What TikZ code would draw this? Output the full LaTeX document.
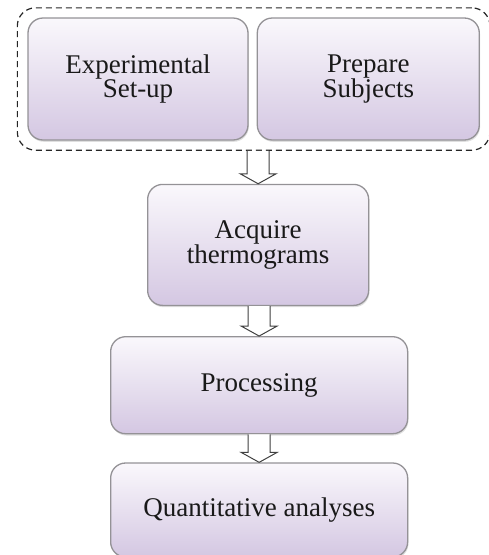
\documentclass[tikz,border=0pt]{standalone}
\usepackage{fontspec}
\setmainfont{Liberation Serif}
\usepackage{tikz}
\usetikzlibrary{positioning,fit,calc,shadows}
\definecolor{boxtop}{HTML}{FAF8FC}
\definecolor{boxbottom}{HTML}{D4C7E2}
\definecolor{boxline}{HTML}{949296}
\tikzset{
     stepbox/.style={draw=boxline, line width=1.3pt, rounded corners=15pt,
       top color=boxtop, bottom color=boxbottom, align=center,
       text=black!90, inner sep=0pt,
       font=\fontsize{27}{22}\selectfont,
       drop shadow={opacity=0.25, shadow xshift=0.8pt, shadow yshift=-1.8pt}},
     groupbox/.style={draw=black!85, line width=1.2pt, dashed, dash pattern=on 6pt off 4pt,
       rounded corners=18pt, inner xsep=10pt, inner ysep=9.5pt},
     hollow/.style={draw=black!75, line width=1pt, fill=white, line join=miter}
     }
% open block arrow from the bottom of #1 down to the top of #2
\newcommand{\hollowarrow}[2]{%
  \draw[hollow] ($(#2.north |- #1.south)+(-11pt,0)$) -- ($(#2.north)+(-11pt,10pt)$)
     -- ($(#2.north)+(-18pt,10pt)$) -- (#2.north) -- ($(#2.north)+(18pt,10pt)$)
     -- ($(#2.north)+(11pt,10pt)$) -- ($(#2.north |- #1.south)+(11pt,0)$);}

\begin{document}
\begin{tikzpicture}
                    \useasboundingbox (0,0) rectangle (488pt,-555pt);
                    % Place nodes
                    \node [stepbox, minimum width=220pt, minimum height=122pt] (setup) at (138pt,-79pt) {Experimental\\Set-up};
                    \node [stepbox, minimum width=222pt, minimum height=122pt, right=8pt of setup] (subjects) {Prepare\\Subjects};
                    \node [groupbox, fit=(setup)(subjects)] (prep) {};
                    \node [stepbox, minimum width=221pt, minimum height=121pt, below=33pt of prep, xshift=4.5pt] (acquire) {Acquire\\thermograms};
                    \node [stepbox, minimum width=297pt, minimum height=97pt, below=30pt of acquire, xshift=1pt] (processing) {Processing};
                    \node [stepbox, minimum width=297pt, minimum height=94pt, below=28pt of processing] (analyses) {Quantitative analyses};
                    % Draw edges
                    \hollowarrow{prep}{acquire}
                    \hollowarrow{acquire}{processing}
                    \hollowarrow{processing}{analyses}
                \end{tikzpicture}
\end{document}
